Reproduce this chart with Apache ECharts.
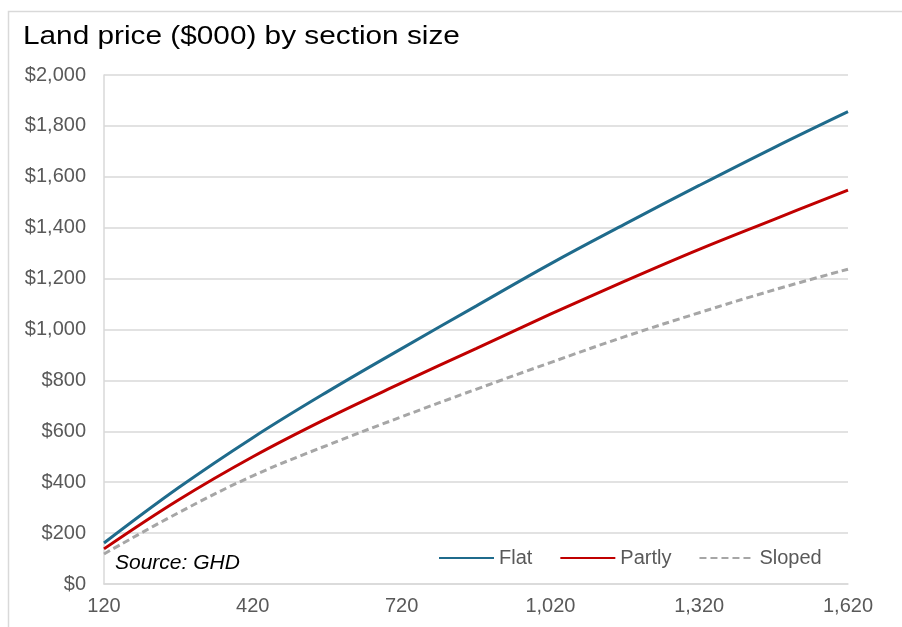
<!DOCTYPE html>
<html>
<head>
<meta charset="utf-8">
<script src="https://cdn.jsdelivr.net/npm/echarts@6/dist/echarts.min.js"></script>
<style>
  html, body { margin: 0; padding: 0; background: #ffffff; }
  #chart { width: 902px; height: 627px; }
</style>
</head>
<body>
<div id="chart"></div>
<script>
// Section size (m²) along the horizontal axis
const sectionSizes = [120, 270, 420, 570, 720, 870, 1020, 1170, 1320, 1470, 1620];

// Land price in $000 for each section size
const flatPrices   = [161, 378, 575, 755, 925, 1092, 1258, 1414, 1566, 1714, 1856];
const partlyPrices = [138, 330, 500, 651, 790, 925, 1060, 1190, 1315, 1432, 1548];
const slopedPrices = [118, 280, 425, 545, 657, 765, 870, 972, 1066, 1155, 1237];

const seriesNames = ['Flat', 'Partly', 'Sloped'];

const labelFont = 'Liberation Sans, Arial, sans-serif';
const labelColor = '#595959';
const gridColor = '#d9d9d9';

const chart = echarts.init(document.getElementById('chart'), null, { renderer: 'canvas' });

chart.setOption({
  animation: false,
  backgroundColor: '#ffffff',
  grid: { left: 104, right: 54, top: 75, bottom: 43, containLabel: false },
  legend: {
    data: seriesNames,
    left: 438,
    top: 548,
    padding: 0,
    itemWidth: 55,
    itemHeight: 14,
    itemGap: 27,
    itemStyle: { opacity: 0 },
    textStyle: { fontFamily: labelFont, fontSize: 20, color: labelColor }
  },
  xAxis: {
    type: 'category',
    data: sectionSizes,
    boundaryGap: false,
    axisLine: { show: true, lineStyle: { color: gridColor, width: 1.5 } },
    axisTick: { show: false },
    splitLine: { show: false },
    axisLabel: {
      interval: 1,
      margin: 12,
      fontFamily: labelFont,
      fontSize: 20,
      color: labelColor,
      formatter: v => Number(v).toLocaleString('en-US')
    }
  },
  yAxis: {
    type: 'value',
    min: 0,
    max: 2000,
    interval: 200,
    axisLine: { show: true, lineStyle: { color: gridColor, width: 1.5 } },
    axisTick: { show: false },
    splitLine: { show: true, lineStyle: { color: gridColor, width: 1.5 } },
    axisLabel: {
      margin: 18,
      fontFamily: labelFont,
      fontSize: 20,
      color: labelColor,
      formatter: v => '$' + v.toLocaleString('en-US')
    }
  },
  graphic: [
    {
      type: 'rect',
      left: 6,
      top: 9,
      shape: { width: 1000, height: 1000 },
      style: { fill: 'none', stroke: '#d9d9d9', lineWidth: 1.5 },
      silent: true
    },
    {
      // chart title, drawn slightly widened
      type: 'text',
      x: 23,
      y: 24,
      scaleX: 1.145,
      style: {
        text: 'Land price ($000) by section size',
        font: '26px ' + labelFont,
        fill: '#000000',
        textVerticalAlign: 'top'
      }
    },
    {
      type: 'text',
      left: 115,
      top: 553,
      style: {
        text: 'Source: GHD',
        font: 'italic 21px ' + labelFont,
        fill: '#000000'
      }
    }
  ],
  series: [
    {
      name: 'Flat',
      type: 'line',
      data: flatPrices,
      smooth: 0.4,
      symbol: 'none',
      lineStyle: { color: '#1f6b8c', width: 3 },
      itemStyle: { color: '#1f6b8c' }
    },
    {
      name: 'Partly',
      type: 'line',
      data: partlyPrices,
      smooth: 0.4,
      symbol: 'none',
      lineStyle: { color: '#c00000', width: 3 },
      itemStyle: { color: '#c00000' }
    },
    {
      name: 'Sloped',
      type: 'line',
      data: slopedPrices,
      smooth: 0.4,
      symbol: 'none',
      lineStyle: { color: '#a6a6a6', width: 3, type: [7, 4] },
      itemStyle: { color: '#a6a6a6' }
    }
  ]
});
</script>
</body>
</html>
